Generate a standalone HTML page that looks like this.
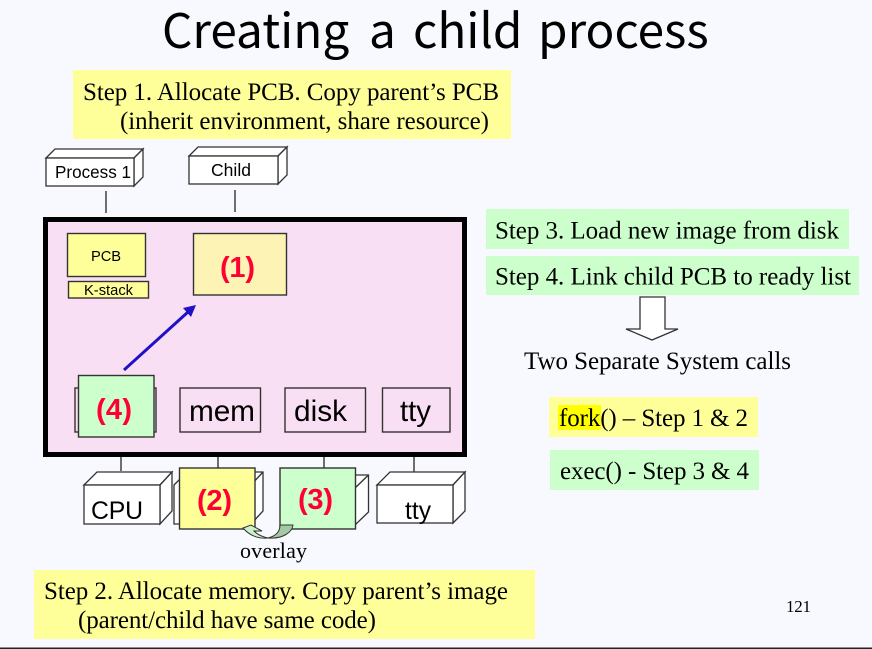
<!DOCTYPE html>
<html><head><meta charset="utf-8"><style>
html,body{margin:0;padding:0;background:#f8f9ff}
svg{display:block}
.s{font-family:"Liberation Serif",serif;font-size:25px;fill:#000}
.a{font-family:"Liberation Sans",sans-serif;fill:#000}
.r{font-family:"Liberation Sans",sans-serif;font-weight:bold;font-size:29px;fill:#ff0033}
.t{font-family:"Noto Sans CJK KR","Liberation Sans",sans-serif;font-size:47.7px;fill:#000}
.b{stroke:#333;stroke-width:1.3;fill:#fff}
.l{stroke:#333;stroke-width:1.4;fill:none}
</style></head><body>
<svg width="872" height="649" viewBox="0 0 872 649" xmlns="http://www.w3.org/2000/svg">
<rect width="872" height="649" fill="#f8f9ff"/>
<rect x="0" y="647.500" width="872" height="1.500" fill="#222"/>
<text class="t" y="48"><tspan x="162">Creating</tspan> <tspan x="369">a</tspan> <tspan x="413">child</tspan> <tspan x="538">process</tspan></text>

<rect x="73" y="70" width="438" height="69" fill="#ffff99"/>
<text class="s" x="83" y="100" textLength="416">Step 1. Allocate PCB. Copy parent’s PCB</text>
<text class="s" x="120" y="129" textLength="369">(inherit environment, share resource)</text>

<rect x="34" y="570" width="501" height="69" fill="#ffff99"/>
<text class="s" x="44" y="599" textLength="464">Step 2. Allocate memory. Copy parent’s image</text>
<text class="s" x="78" y="628" textLength="298">(parent/child have same code)</text>

<rect x="486" y="209" width="363" height="40" fill="#ccffcc"/>
<text class="s" x="495" y="238.500" textLength="344">Step 3. Load new image from disk</text>
<rect x="486" y="256" width="373" height="39" fill="#ccffcc"/>
<text class="s" x="495" y="284.500" textLength="356">Step 4. Link child PCB to ready list</text>

<path d="M640,297 H665 V329 H678 L652,340 L626,329 H640 Z" fill="#fff" stroke="#333" stroke-width="1.3"/>
<text class="s" x="524" y="369" textLength="267">Two Separate System calls</text>

<rect x="549" y="397" width="209" height="40" fill="#ffff99"/>
<rect x="558" y="405" width="43" height="25" fill="#ffff00"/>
<text class="s" x="559" y="426" textLength="189">fork() – Step 1 &amp; 2</text>
<rect x="550" y="450" width="209" height="40" fill="#ccffcc"/>
<text class="s" x="560" y="479" textLength="189">exec() - Step 3 &amp; 4</text>
<text x="786" y="612" font-family="'Liberation Serif',serif" font-size="17" textLength="25" fill="#000">121</text>

<!-- Process 1 -->
<path class="b" d="M46,158 L55,149 H143 L134,158 Z"/>
<path class="b" d="M134,158 L143,149 V177 L134,186 Z"/>
<rect class="b" x="46" y="158" width="88" height="28"/>
<text class="a" x="55" y="178" font-size="17.100" textLength="76">Process 1</text>
<!-- Child -->
<path class="b" d="M189,156 L198,147 H287 L278,156 Z"/>
<path class="b" d="M278,156 L287,147 V175 L278,184 Z"/>
<rect class="b" x="189" y="156" width="89" height="28"/>
<text class="a" x="211" y="176" font-size="17.500" textLength="40">Child</text>
<path class="l" d="M106,191 V213 M235,190 V212"/>

<!-- Kernel box -->
<rect x="45.500" y="219.500" width="419" height="235" fill="#f9dff3" stroke="#000" stroke-width="5"/>

<rect x="67.500" y="233.500" width="78" height="43" fill="#ffff99" stroke="#333" stroke-width="1.4"/>
<text class="a" x="91" y="261" font-size="14.700" textLength="30">PCB</text>
<rect x="68.500" y="281.500" width="80" height="16.500" fill="#ffff99" stroke="#333" stroke-width="1.4"/>
<text class="a" x="84" y="295" font-size="14.700" textLength="49">K-stack</text>
<rect x="193.500" y="233.500" width="93" height="61.500" fill="#fdf3b4" stroke="#333" stroke-width="1.4"/>
<text class="r" x="220" y="277" textLength="35">(1)</text>

<path d="M124,370 L188,312" stroke="#2010c8" stroke-width="3" fill="none"/>
<path d="M196,305 L191,317 L183,308 Z" fill="#2010c8"/>

<rect class="l" x="75" y="388" width="81" height="44"/>
<rect x="78.500" y="375.500" width="75.500" height="61.500" fill="#ccffcc" stroke="#333" stroke-width="1.4"/>
<text class="r" x="96" y="419" textLength="36">(4)</text>

<rect class="l" x="180" y="388" width="80.500" height="44"/>
<text class="a" x="189" y="421" font-size="29.800" textLength="66">mem</text>
<rect class="l" x="285" y="388" width="80.500" height="44"/>
<text class="a" x="294" y="421" font-size="29.800" textLength="53">disk</text>
<rect class="l" x="382.500" y="388" width="67.500" height="44"/>
<text class="a" x="400" y="421" font-size="29.400" textLength="31">tty</text>

<path class="l" d="M121,457 V471 M218,457 V468 M324,457 V468 M414,457 V475"/>

<!-- CPU -->
<path class="b" d="M84,485 L97,472 H172 L160,485 Z"/>
<path class="b" d="M160,485 L172,472 V511 L160,524 Z"/>
<rect class="b" x="84" y="485" width="76" height="39"/>
<text class="a" x="91" y="519" font-size="24.800" textLength="52">CPU</text>
<!-- mem device -->
<path class="b" d="M174,485 L187,472 H263 V511 L251,524 H174 Z"/>
<path class="l" d="M251,485 L263,472"/>
<rect x="179.500" y="468" width="75.500" height="61" fill="#ffff99" stroke="#333" stroke-width="1.4"/>
<text class="r" x="197" y="510" textLength="35">(2)</text>
<!-- disk device -->
<path class="b" d="M355,475 H368.500 V512 L355,525 Z"/>
<path class="l" d="M355,488 L368.500,475"/>
<rect x="280" y="468" width="75.500" height="61" fill="#ccffcc" stroke="#333" stroke-width="1.4"/>
<text class="r" x="298" y="509" textLength="35">(3)</text>
<!-- tty -->
<path class="b" d="M377,485 L390,472 H465 L453,485 Z"/>
<path class="b" d="M453,485 L465,472 V511 L453,523 Z"/>
<rect class="b" x="377" y="485" width="76" height="38"/>
<text class="a" x="405" y="519" font-size="24.600" textLength="26">tty</text>

<!-- overlay arrows -->
<path d="M280,525 L293,525 C292,533 282,539 268,538 C276,536 280,532 280,525 Z" fill="#a3c9a3" stroke="#333" stroke-width="1"/>
<path d="M243,528 L251,525 L262,531 L254,531 C258,535 263,537 268,538 C258,539 250,536 243,528 Z" fill="#ccf2cc" stroke="#333" stroke-width="1"/>
<text x="240" y="558" font-family="'Liberation Serif',serif" font-size="22" textLength="67" fill="#000">overlay</text>
</svg>
</body></html>
